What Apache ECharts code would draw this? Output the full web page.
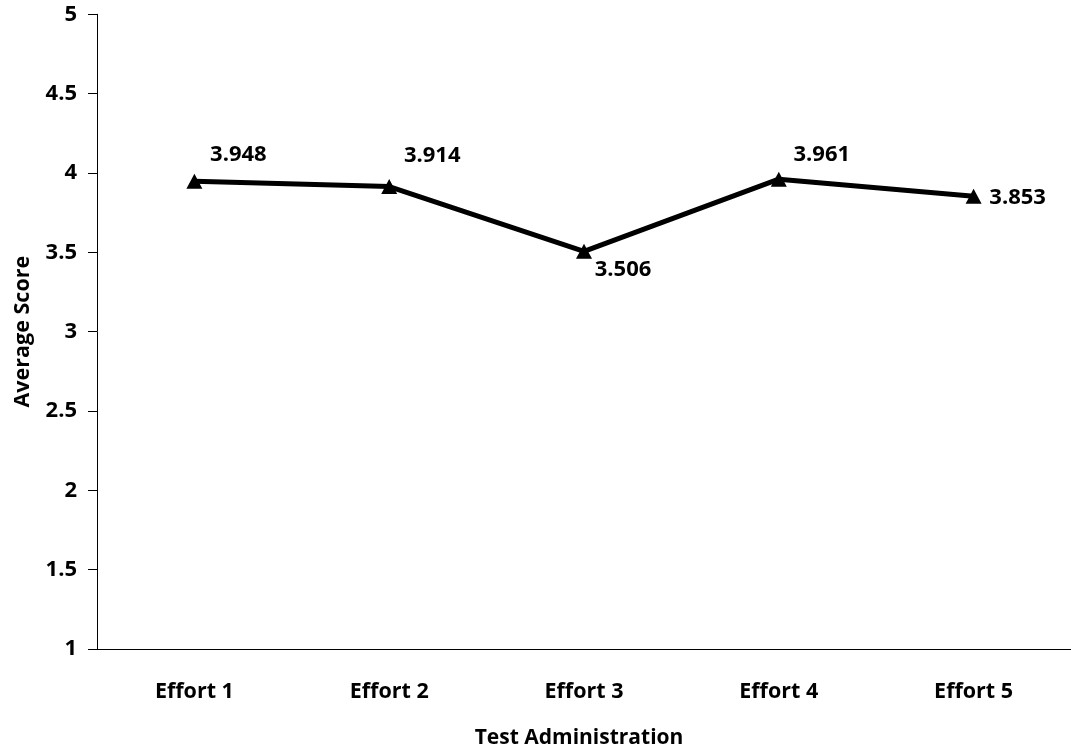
<!DOCTYPE html>
<html>
<head>
<meta charset="utf-8">
<script src="https://cdn.jsdelivr.net/npm/echarts@6/dist/echarts.min.js"></script>
<style>
  html, body { margin: 0; padding: 0; background: #fff; overflow: hidden; }
  #chart { position: fixed; left: 0; top: 0; width: 1071px; height: 754px; }
</style>
</head>
<body>
<div id="chart"></div>
<script>
// Average score per test administration
const categories = ['Effort 1', 'Effort 2', 'Effort 3', 'Effort 4', 'Effort 5'];
const scores = [3.948, 3.914, 3.506, 3.961, 3.853];
// Value label placement per point (pixel offset from the marker centre)
const labelOffsets = [[44, -26], [43, -31], [39, 18], [43, -24], [44, 1]];

const FONT = '"Open Sans", "Liberation Sans", sans-serif';

const chart = echarts.init(document.getElementById('chart'), null, { renderer: 'canvas', width: 1071, height: 754 });

chart.setOption({
  animation: false,
  backgroundColor: '#ffffff',
  grid: { left: 97, top: 14.3, width: 985, height: 640, containLabel: false },
  xAxis: {
    type: 'category',
    data: categories,
    boundaryGap: true,
    name: 'Test Administration',
    nameLocation: 'middle',
    nameGap: 79,
    nameTextStyle: {
      fontFamily: FONT, fontWeight: 'bold', fontSize: 21, color: '#000',
      padding: [0, 10, 0, 0]
    },
    axisLine: { lineStyle: { color: '#000', width: 1.2 } },
    axisTick: { show: false },
    axisLabel: { fontFamily: FONT, fontWeight: 'bold', fontSize: 21.5, color: '#000', margin: 32 },
    splitLine: { show: false }
  },
  yAxis: {
    type: 'value',
    min: 1,
    max: 5,
    interval: 0.5,
    name: 'Average Score',
    nameLocation: 'middle',
    nameGap: 63,
    nameTextStyle: { fontFamily: FONT, fontWeight: 'bold', fontSize: 21.5, color: '#000' },
    axisLine: { show: true, lineStyle: { color: '#000', width: 1 } },
    axisTick: { show: true, inside: false, length: 9, lineStyle: { color: '#000', width: 1 } },
    axisLabel: { fontFamily: FONT, fontWeight: 'bold', fontSize: 22, color: '#000', margin: 20 },
    splitLine: { show: false }
  },
  series: [{
    type: 'line',
    data: scores.map((v, i) => ({
      value: v,
      label: { offset: labelOffsets[i] }
    })),
    symbol: 'triangle',
    symbolSize: [16, 15],
    showAllSymbol: true,
    lineStyle: { color: '#000', width: 5 },
    itemStyle: { color: '#000' },
    label: {
      show: true,
      position: 'inside',
      align: 'center',
      verticalAlign: 'middle',
      fontFamily: FONT,
      fontWeight: 'bold',
      fontSize: 22,
      color: '#000',
      formatter: p => p.value.toFixed(3)
    },
    emphasis: { disabled: true }
  }]
});
</script>
</body>
</html>
